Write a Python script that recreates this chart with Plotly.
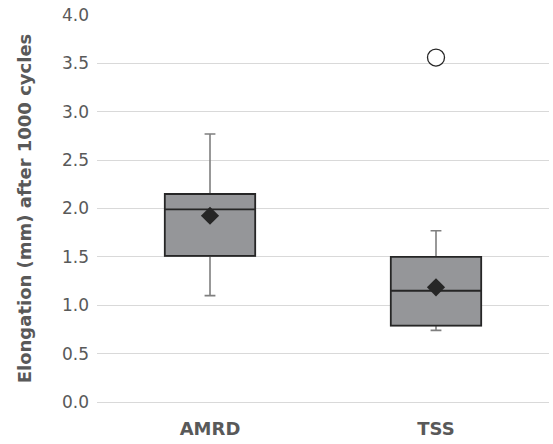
import plotly.graph_objects as go

categories = ["AMRD", "TSS"]
q1 = [1.51, 0.79]
median = [1.99, 1.15]
q3 = [2.15, 1.50]
lower_whisker = [1.10, 0.74]
upper_whisker = [2.77, 1.77]
means = [1.925, 1.185]
outlier_cat = ["TSS"]
outlier_val = [3.56]
y_ticks = [0.0, 0.5, 1.0, 1.5, 2.0, 2.5, 3.0, 3.5, 4.0]

fig = go.Figure()

# whiskers (gray) drawn first
fig.add_trace(go.Box(
    x=categories, q1=q1, median=median, q3=q3,
    lowerfence=lower_whisker, upperfence=upper_whisker,
    fillcolor="#959699", line=dict(color="#7f7f7f", width=1.6),
    whiskerwidth=0.12, width=0.4, boxpoints=False, hoverinfo="skip",
    showlegend=False,
))
# box body (dark outline) on top
fig.add_trace(go.Box(
    x=categories, q1=q1, median=median, q3=q3,
    lowerfence=q1, upperfence=q3,
    fillcolor="#959699", line=dict(color="#262626", width=1.8),
    whiskerwidth=0, width=0.4, boxpoints=False,
    showlegend=False,
))
fig.add_trace(go.Scatter(
    x=categories, y=means, mode="markers",
    marker=dict(symbol="diamond", size=14, color="#262626"),
    showlegend=False,
))
fig.add_trace(go.Scatter(
    x=outlier_cat, y=outlier_val, mode="markers",
    marker=dict(symbol="circle", size=17, color="white",
                line=dict(color="#262626", width=1.3)),
    showlegend=False,
))

fig.update_layout(
    width=553, height=444,
    margin=dict(l=97, r=4, t=15, b=42),
    plot_bgcolor="white", paper_bgcolor="white",
    boxmode="overlay",
    font=dict(family="DejaVu Sans", color="#595959"),
    xaxis=dict(
        range=[-0.5, 1.5], showgrid=False, zeroline=False, showline=False,
        tickfont=dict(size=18, family="DejaVu Sans", color="#595959", weight="bold"),
        ticklabelstandoff=14,
    ),
    yaxis=dict(
        range=[0, 4], tickvals=y_ticks, ticktext=[f"{v:.1f}" for v in y_ticks],
        showgrid=True, gridcolor="#d9d9d9", gridwidth=1.3,
        zeroline=True, zerolinecolor="#d9d9d9", zerolinewidth=1.3,
        showline=False,
        tickfont=dict(size=17, family="DejaVu Sans", color="#595959"),
        ticklabelstandoff=7,
        title=dict(text="Elongation (mm) after 1000 cycles",
                   font=dict(size=18, family="DejaVu Sans", color="#595959", weight="bold"),
                   standoff=25),
    ),
)

fig.write_html("out.html")
